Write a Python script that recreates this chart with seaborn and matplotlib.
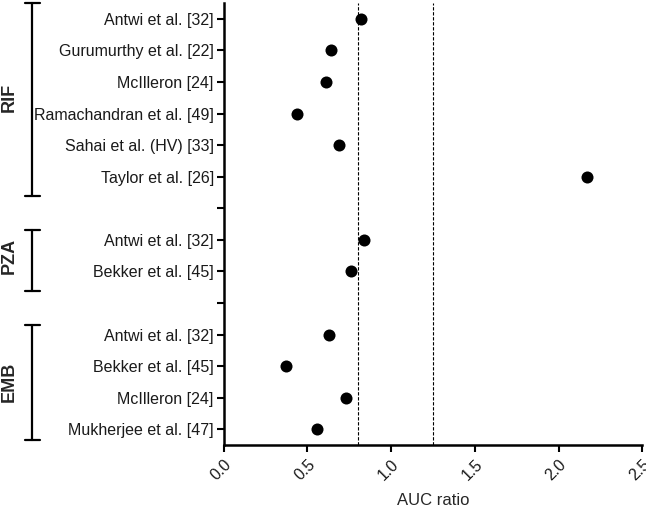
import matplotlib
matplotlib.use("Agg")
import matplotlib.pyplot as plt
import matplotlib.transforms as mtransforms
import seaborn as sns
import pandas as pd

drugs = ["RIF", "RIF", "RIF", "RIF", "RIF", "RIF", "PZA", "PZA", "EMB", "EMB", "EMB", "EMB"]
studies = ["Antwi et al. [32]", "Gurumurthy et al. [22]", "McIlleron [24]",
           "Ramachandran et al. [49]", "Sahai et al. (HV) [33]", "Taylor et al. [26]",
           "Antwi et al. [32]", "Bekker et al. [45]",
           "Antwi et al. [32]", "Bekker et al. [45]", "McIlleron [24]", "Mukherjee et al. [47]"]
auc_ratio = [0.82, 0.64, 0.61, 0.44, 0.69, 2.17, 0.84, 0.76, 0.63, 0.37, 0.73, 0.56]
group_order = ["RIF", "PZA", "EMB"]
ref_lines = [0.8, 1.25]
x_ticks = [0.0, 0.5, 1.0, 1.5, 2.0, 2.5]

sns.set_theme(style="ticks")
plt.rcParams["font.family"] = ["Liberation Sans", "DejaVu Sans"]

# row positions with a blank row between groups
rows, labels = [], []
pos = 0
prev = None
for d, s in zip(drugs, studies):
    if prev is not None and d != prev:
        labels.append("")
        pos += 1
    rows.append(pos)
    labels.append(s)
    prev = d
    pos += 1
df = pd.DataFrame({"drug": drugs, "study": studies, "auc": auc_ratio, "row": rows})

fig = plt.figure(figsize=(6.46, 5.11), dpi=100)
ax = fig.add_axes([0.346, 0.129, 0.6485, 0.865])

sns.scatterplot(data=df, x="auc", y="row", color="black", s=75, edgecolor="black",
                linewidth=0, ax=ax, zorder=3, legend=False)
for v in ref_lines:
    ax.axvline(v, color="black", lw=0.8, ls=(0, (3, 1.5)), zorder=1)

nrows = len(labels)
ax.set_xlim(0, 2.5)
ax.set_ylim(nrows - 0.5, -0.5)
ax.set_yticks(range(nrows))
ax.set_yticklabels(labels, fontsize=11.5)
ax.set_xticks(x_ticks)
ax.set_xticklabels([f"{t:.1f}" for t in x_ticks], rotation=45, ha="right",
                   rotation_mode="anchor", fontsize=11.5)
shift = mtransforms.ScaledTranslation(-8 / 100, 0, fig.dpi_scale_trans)
for lab in ax.get_xticklabels():
    lab.set_transform(lab.get_transform() + shift)
ax.set_xlabel("AUC ratio", fontsize=12, labelpad=7)
ax.set_ylabel("")
for sp in ["top", "right"]:
    ax.spines[sp].set_visible(False)
for sp in ["left", "bottom"]:
    ax.spines[sp].set_linewidth(1.8)
    ax.spines[sp].set_color("black")
ax.tick_params(axis="both", width=1.5, length=5, color="black", labelcolor="#1a1a1a")
ax.tick_params(axis="y", pad=2)

# group brackets
trans = mtransforms.blended_transform_factory(ax.transAxes, ax.transData)
bx = -0.456
cap = 0.017
for g in group_order:
    r = df.loc[df.drug == g, "row"]
    top = max(r.min() - 0.3, -0.5) if g != "RIF" else -0.5
    bot = min(r.max() + 0.62, nrows - 0.65)
    ax.plot([bx, bx], [top, bot], color="black", lw=1.6, transform=trans, clip_on=False)
    for yy in (top, bot):
        ax.plot([bx - cap, bx + cap], [yy, yy], color="black", lw=1.6,
                transform=trans, clip_on=False)
    ax.text(-0.511, (r.min() + r.max()) / 2, g, rotation=90, ha="center", va="center",
            fontsize=13, fontweight="bold", transform=trans)

fig.savefig("out.png", dpi=100)
